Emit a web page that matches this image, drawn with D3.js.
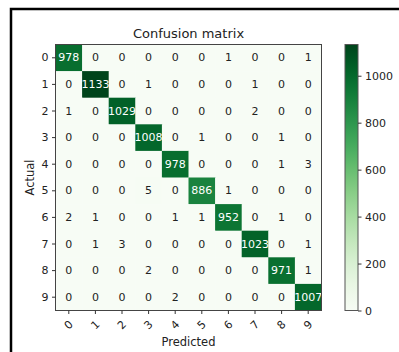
<!DOCTYPE html>
<html>
<head>
<meta charset="utf-8">
<script src="https://cdn.jsdelivr.net/npm/d3@7"></script>
<style>
  html, body { margin: 0; padding: 0; background: #fff; }
  svg { display: block; font-family: "DejaVu Sans", sans-serif; }
</style>
</head>
<body>
<svg id="chart" width="399" height="352"></svg>
<script>
// Class labels (digits) for both axes
const classes = ["0", "1", "2", "3", "4", "5", "6", "7", "8", "9"];

// Confusion matrix counts, one array per actual class
const row0 = [978, 0, 0, 0, 0, 0, 1, 0, 0, 1];
const row1 = [0, 1133, 0, 1, 0, 0, 0, 1, 0, 0];
const row2 = [1, 0, 1029, 0, 0, 0, 0, 2, 0, 0];
const row3 = [0, 0, 0, 1008, 0, 1, 0, 0, 1, 0];
const row4 = [0, 0, 0, 0, 978, 0, 0, 0, 1, 3];
const row5 = [0, 0, 0, 5, 0, 886, 1, 0, 0, 0];
const row6 = [2, 1, 0, 0, 1, 1, 952, 0, 1, 0];
const row7 = [0, 1, 3, 0, 0, 0, 0, 1023, 0, 1];
const row8 = [0, 0, 0, 2, 0, 0, 0, 0, 971, 1];
const row9 = [0, 0, 0, 0, 2, 0, 0, 0, 0, 1007];
const matrix = [row0, row1, row2, row3, row4, row5, row6, row7, row8, row9];

// Colorbar tick values
const colorbarTicks = [0, 200, 400, 600, 800, 1000];

const svg = d3.select("#chart");

// Outer frame (top and left edges show)
svg.append("rect")
  .attr("x", 11).attr("y", 9)
  .attr("width", 420).attr("height", 400)
  .attr("fill", "none")
  .attr("stroke", "#000")
  .attr("stroke-width", 2.5);

const plotLeft = 55.5, plotTop = 44.5, size = 266;
const x = d3.scaleBand().domain(classes).range([plotLeft, plotLeft + size]);
const y = d3.scaleBand().domain(classes).range([plotTop, plotTop + size]);

const maxVal = d3.max(matrix, r => d3.max(r));
const color = d3.scaleSequential(d3.interpolateGreens).domain([0, maxVal]);

const cells = [];
matrix.forEach((r, i) => r.forEach((v, j) => cells.push({ actual: classes[i], pred: classes[j], v })));

// Heatmap cells
svg.append("g").selectAll("rect").data(cells).join("rect")
  .attr("x", d => x(d.pred))
  .attr("y", d => y(d.actual))
  .attr("width", x.bandwidth() + 0.5)
  .attr("height", y.bandwidth() + 0.5)
  .attr("fill", d => color(d.v));

// Cell value labels
const thresh = maxVal / 2;
svg.append("g").selectAll("text").data(cells).join("text")
  .attr("x", d => x(d.pred) + x.bandwidth() / 2)
  .attr("y", d => y(d.actual) + y.bandwidth() / 2)
  .attr("text-anchor", "middle")
  .attr("dominant-baseline", "central")
  .attr("font-size", 11)
  .attr("fill", d => d.v > thresh ? "#fff" : "#222")
  .text(d => d.v);

// Plot frame
svg.append("rect")
  .attr("x", plotLeft).attr("y", plotTop)
  .attr("width", size).attr("height", size)
  .attr("fill", "none")
  .attr("stroke", "#444")
  .attr("stroke-width", 1);

// Y axis
const yAxis = svg.append("g")
  .attr("transform", `translate(${plotLeft},0)`)
  .call(d3.axisLeft(y).tickSize(3.5).tickPadding(3.5));
yAxis.select(".domain").remove();
yAxis.selectAll("line").attr("stroke", "#333");
yAxis.selectAll("text").attr("font-size", 11).attr("fill", "#222")
  .attr("font-family", "DejaVu Sans, sans-serif");

// X axis with rotated labels
const xAxis = svg.append("g")
  .attr("transform", `translate(0,${plotTop + size})`)
  .call(d3.axisBottom(x).tickSize(3.5).tickPadding(3.5));
xAxis.select(".domain").remove();
xAxis.selectAll("line").attr("stroke", "#333");
xAxis.selectAll("text")
  .attr("font-size", 11).attr("fill", "#222")
  .attr("font-family", "DejaVu Sans, sans-serif")
  .attr("text-anchor", "middle")
  .attr("dy", null)
  .attr("y", 0)
  .attr("dominant-baseline", "central")
  .attr("transform", "translate(0,14.5) rotate(-45)");

// Title and axis titles
svg.append("text")
  .attr("x", plotLeft + size / 2).attr("y", 37.5)
  .attr("text-anchor", "middle")
  .attr("font-size", 13).attr("fill", "#222")
  .text("Confusion matrix");

svg.append("text")
  .attr("x", plotLeft + size / 2).attr("y", 346)
  .attr("text-anchor", "middle")
  .attr("font-size", 11.5).attr("fill", "#222")
  .text("Predicted");

svg.append("text")
  .attr("transform", `translate(34,${plotTop + size / 2}) rotate(-90)`)
  .attr("text-anchor", "middle")
  .attr("font-size", 11.5).attr("fill", "#222")
  .text("Actual");

// Colorbar
const cbX = 345, cbW = 13;
const cbScale = d3.scaleLinear().domain([0, maxVal]).range([plotTop + size, plotTop]);
const defs = svg.append("defs");
const grad = defs.append("linearGradient")
  .attr("id", "cbgrad").attr("x1", 0).attr("y1", 1).attr("x2", 0).attr("y2", 0);
d3.range(0, 1.0001, 0.05).forEach(t => {
  grad.append("stop").attr("offset", t).attr("stop-color", color(t * maxVal));
});
svg.append("rect")
  .attr("x", cbX).attr("y", plotTop)
  .attr("width", cbW).attr("height", size)
  .attr("fill", "url(#cbgrad)")
  .attr("stroke", "#555").attr("stroke-width", 1);

const cbAxis = svg.append("g")
  .attr("transform", `translate(${cbX + cbW},0)`)
  .call(d3.axisRight(cbScale).tickValues(colorbarTicks).tickFormat(d3.format("d"))
    .tickSize(3.5).tickPadding(3.5));
cbAxis.select(".domain").remove();
cbAxis.selectAll("line").attr("stroke", "#333");
cbAxis.selectAll("text").attr("font-size", 11).attr("fill", "#222")
  .attr("font-family", "DejaVu Sans, sans-serif");
</script>
</body>
</html>
